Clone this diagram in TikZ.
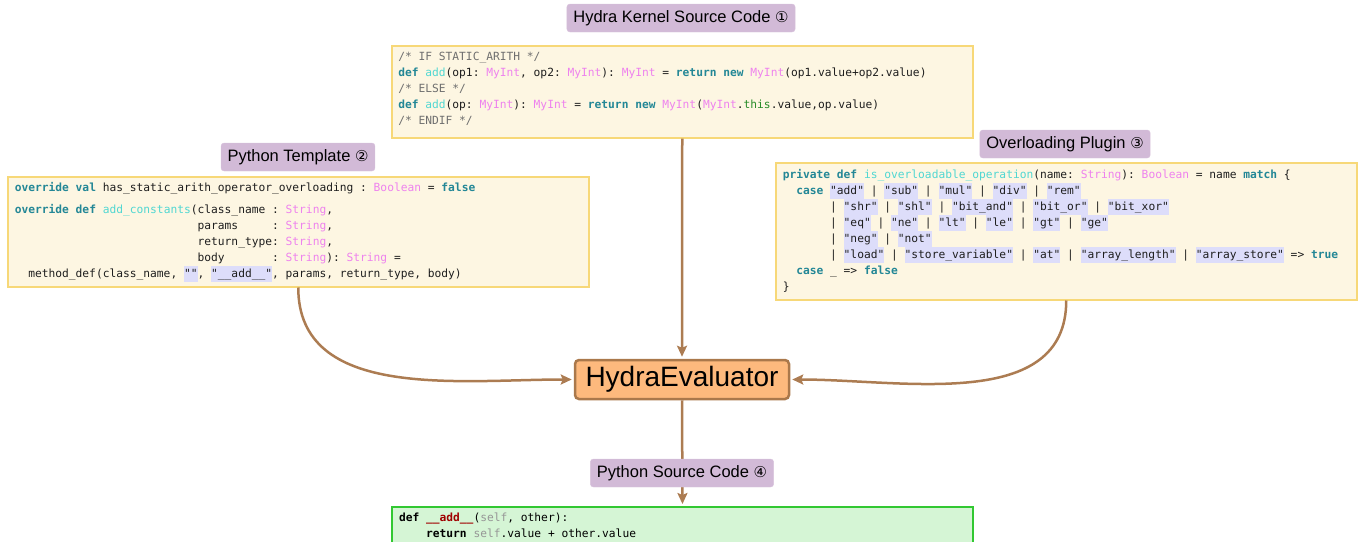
\documentclass[tikz,border=0pt]{standalone}
\usepackage{fontspec}
\setmainfont{Liberation Sans}
\setmonofont{DejaVu Sans Mono}
\newfontfamily\symfont{DejaVu Sans}
\usetikzlibrary{arrows.meta}
\definecolor{kwc}{RGB}{35,135,150}
\definecolor{fnc}{RGB}{80,215,210}
\definecolor{tyc}{RGB}{238,130,238}
\definecolor{cmc}{RGB}{110,110,110}
\definecolor{grc}{RGB}{40,140,40}
\definecolor{hlc}{RGB}{221,221,250}
\definecolor{codebg}{RGB}{253,246,226}
\definecolor{codeborder}{RGB}{247,216,120}
\definecolor{codetext}{RGB}{30,30,30}
\definecolor{labc}{RGB}{210,186,215}
\definecolor{evalfill}{RGB}{253,185,125}
\definecolor{evalborder}{RGB}{170,120,75}
\definecolor{arrc}{RGB}{172,124,82}
\definecolor{srcfill}{RGB}{213,245,213}
\definecolor{srcborder}{RGB}{50,200,50}
\definecolor{pyname}{RGB}{160,0,0}
\definecolor{pyself}{RGB}{150,150,150}
\newcommand\kw[1]{\textcolor{kwc}{\textbf{#1}}}
\newcommand\fn[1]{\textcolor{fnc}{#1}}
\newcommand\ty[1]{\textcolor{tyc}{#1}}
\newcommand\cm[1]{\textcolor{cmc}{#1}}
\newcommand\grn[1]{\textcolor{grc}{#1}}
\newcommand\hs[1]{{\setlength{\fboxsep}{0pt}\colorbox{hlc}{\rule[-4.5pt]{0pt}{16pt}#1}}}
\newcommand\monosp{\spaceskip=0pt\relax\xspaceskip=0pt\relax}
\tikzset{
  codebox/.style={draw=codeborder, fill=codebg, line width=1.5pt, anchor=north west,
    inner xsep=6.5pt, inner ysep=0pt, align=left, text=codetext,
    font=\ttfamily\fontsize{11.25}{16}\selectfont},
  lab/.style={fill=labc, draw=labc!85!white, rounded corners=3pt, inner xsep=6.5pt,
    minimum height=28pt, text=black, font=\fontsize{16.5}{20}\selectfont},
  evalbox/.style={fill=evalfill, draw=evalborder, line width=2.5pt, rounded corners=4pt,
    minimum width=214pt, minimum height=39pt, inner sep=0pt, font=\fontsize{28}{32}\selectfont},
  srcbox/.style={draw=srcborder, fill=srcfill, line width=2pt, anchor=north west,
    inner xsep=7pt, inner ysep=0pt, align=left, text=black,
    font=\ttfamily\fontsize{11.25}{16}\selectfont},
  arr/.style={draw=arrc, line width=2.5pt, -{Stealth[length=11pt,width=10pt,inset=2pt]}, shorten >=2pt}
}
\begin{document}
\begin{tikzpicture}[x=1pt,y=-1pt]
\useasboundingbox (0,0) rectangle (1363,541);

% Kernel
\node[codebox, text width=568pt, minimum height=92pt] (kernel) at (391,45) {\monosp
\cm{/* IF STATIC\_ARITH */}\\
\kw{def} \fn{add}(op1: \ty{MyInt}, op2: \ty{MyInt}): \ty{MyInt} = \kw{return} \kw{new} \ty{MyInt}(op1.value+op2.value)\\
\cm{/* ELSE */}\\
\kw{def} \fn{add}(op: \ty{MyInt}): \ty{MyInt} = \kw{return} \kw{new} \ty{MyInt}(\ty{MyInt}.\grn{this}.value,op.value)\\
\cm{/* ENDIF */}\par\vspace*{6pt}};
\node[lab] (klabel) at (681,18) {Hydra Kernel Source Code {\symfont\fontsize{15}{18}\selectfont ①}};

% Template
\node[codebox, text width=567pt, minimum height=110pt, inner xsep=7pt] (template) at (7,176) {\monosp
\kw{override} \kw{val} has\_static\_arith\_operator\_overloading : \ty{Boolean} = \kw{false}\\[6pt]
\kw{override} \kw{def} \fn{add\_constants}(class\_name : \ty{String},\\
~~~~~~~~~~~~~~~~~~~~~~~~~~~params~~~~~: \ty{String},\\
~~~~~~~~~~~~~~~~~~~~~~~~~~~return\_type: \ty{String},\\
~~~~~~~~~~~~~~~~~~~~~~~~~~~body~~~~~~~: \ty{String}): \ty{String} =\\
~~method\_def(class\_name, \hs{""}, \hs{"\_\_add\_\_"}, params, return\_type, body)};
\node[lab] (tlabel) at (298,157) {Python Template {\symfont\fontsize{15}{18}\selectfont ②}};

% Plugin
\node[codebox, text width=567pt, minimum height=137pt, inner xsep=7pt] (plugin) at (775,162) {\monosp
\kw{private} \kw{def} \fn{is\_overloadable\_operation}(name: \ty{String}): \ty{Boolean} = name \kw{match} \{\\
~~\kw{case} \hs{"add"} | \hs{"sub"} | \hs{"mul"} | \hs{"div"} | \hs{"rem"}\\
~~~~~~~| \hs{"shr"} | \hs{"shl"} | \hs{"bit\_and"} | \hs{"bit\_or"} | \hs{"bit\_xor"}\\
~~~~~~~| \hs{"eq"} | \hs{"ne"} | \hs{"lt"} | \hs{"le"} | \hs{"gt"} | \hs{"ge"}\\
~~~~~~~| \hs{"neg"} | \hs{"not"}\\
~~~~~~~| \hs{"load"} | \hs{"store\_variable"} | \hs{"at"} | \hs{"array\_length"} | \hs{"array\_store"} => \kw{true}\\
~~\kw{case} \_ => \kw{false}\\
\}};
\node[lab] (plabel) at (1065,144) {Overloading Plugin {\symfont\fontsize{15}{18}\selectfont ③}};

% Evaluator
\node[evalbox] (eval) at (682,379.5) {HydraEvaluator};

% Source
\node[srcbox, text width=567pt] (source) at (391,506) {\monosp
\rule{0pt}{14pt}\textbf{def} \textcolor{pyname}{\textbf{\_\_add\_\_}}(\textcolor{pyself}{self}, other):\\
~~~~\textbf{return} \textcolor{pyself}{self}.value + other.value\\
\mbox{}\\
\mbox{}};

% Connectors
\draw[arr] (kernel.south) -- (eval.north);
\draw[arr] (template.south) to[out=-90,in=180] (eval.west);
\draw[arr] (plugin.south) to[out=-90,in=0] (eval.east);
\draw[arr] (eval.south) -- (source.north);
\node[lab] (slabel) at (682,473) {Python Source Code {\symfont\fontsize{15}{18}\selectfont ④}};
\end{tikzpicture}
\end{document}
